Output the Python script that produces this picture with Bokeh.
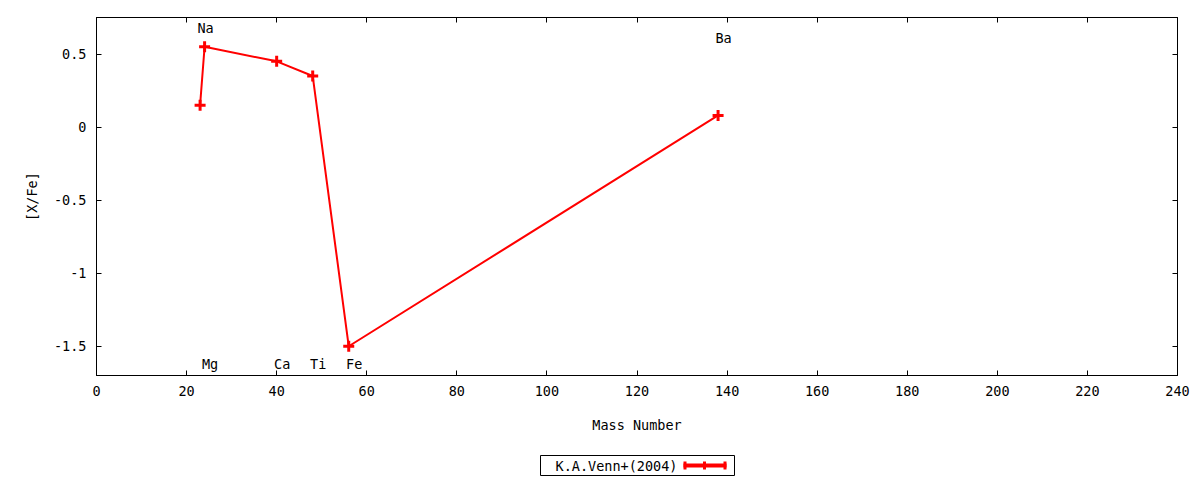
from bokeh.plotting import figure
from bokeh.layouts import column
from bokeh.models import Range1d, FixedTicker, LinearAxis, ColumnDataSource
from bokeh.core.properties import value
from bokeh.embed import file_html
from bokeh.resources import INLINE

# ---- data ----
elements = ["Na", "Mg", "Ca", "Ti", "Fe", "Ba"]
mass = [23, 24, 40, 48, 56, 138]
x_fe = [0.15, 0.55, 0.45, 0.35, -1.50, 0.08]
label_y = [0.68, -1.62, -1.62, -1.62, -1.62, 0.61]
x_ticks = [0, 20, 40, 60, 80, 100, 120, 140, 160, 180, 200, 220, 240]
y_ticks = [-1.5, -1.0, -0.5, 0.0, 0.5]
y_tick_labels = ["-1.5", "-1", "-0.5", "0", "0.5"]
series_name = "K.A.Venn+(2004)"

FONT = "DejaVu Sans Mono"
FS = "13.5px"
RED = "#ff0000"

p = figure(width=1200, height=448, output_backend="svg", toolbar_location=None,
           x_range=Range1d(0, 240), y_range=Range1d(-1.7, 0.75),
           min_border_left=96, min_border_right=23, min_border_top=17,
           min_border_bottom=73)
p.background_fill_color = "white"
p.border_fill_color = "white"
p.grid.visible = False
p.outline_line_color = "black"
p.outline_line_width = 1


def style_axis(ax, ticks, show_labels):
    ax.ticker = FixedTicker(ticks=ticks)
    ax.major_tick_in = 5
    ax.major_tick_out = 0
    ax.minor_tick_line_color = None
    ax.major_tick_line_color = "black"
    ax.axis_line_color = "black"
    ax.major_label_text_font = FONT
    ax.major_label_text_font_size = FS
    ax.major_label_text_color = "black"
    ax.axis_label_text_font = FONT
    ax.axis_label_text_font_size = FS
    ax.axis_label_text_font_style = "normal"
    ax.axis_label_text_color = "black"
    if not show_labels:
        ax.major_label_text_font_size = "0px"
        ax.major_label_text_color = None
        ax.major_label_standoff = 0


xa = p.xaxis[0]
style_axis(xa, x_ticks, True)
xa.major_label_standoff = 10
xa.axis_label = "Mass Number"
xa.axis_label_standoff = 18

ya = p.yaxis[0]
style_axis(ya, y_ticks, True)
ya.major_label_standoff = 10
ya.major_label_overrides = {t: l for t, l in zip(y_ticks, y_tick_labels)}
ya.axis_label = "[X/Fe]"
ya.axis_label_standoff = 11

top_ax = LinearAxis()
style_axis(top_ax, x_ticks, False)
p.add_layout(top_ax, "above")
right_ax = LinearAxis()
style_axis(right_ax, y_ticks, False)
p.add_layout(right_ax, "right")

src = ColumnDataSource(dict(mass=mass, x_fe=x_fe))
p.line("mass", "x_fe", source=src, line_color=RED, line_width=2)
p.scatter("mass", "x_fe", source=src, marker="cross", size=11,
          line_color=RED, line_width=3)

lsrc = ColumnDataSource(dict(x=mass, y=label_y, t=elements))
p.text("x", "y", text="t", source=lsrc, text_align="center", text_baseline="middle",
       x_offset=5.5, text_font=value(FONT), text_font_size=value(FS), text_color="black")

# ---- key strip below the plot; its frame is aligned with the main frame,
#      so its x range is expressed in page pixels of that frame ----
k = figure(width=1200, height=32, output_backend="svg", toolbar_location=None,
           x_range=Range1d(96, 1177), y_range=Range1d(0, 32),
           x_axis_location=None, y_axis_location=None,
           min_border=0, min_border_left=96, min_border_right=23,
           min_border_top=0, min_border_bottom=0)
k.grid.visible = False
k.outline_line_color = None
k.background_fill_color = "white"
k.border_fill_color = "white"
k.quad(left=[540], right=[734], top=[25], bottom=[5], fill_color=None,
       line_color="black", line_width=1)
k.text(x=[555], y=[15], text=[series_name], text_align="left", text_baseline="middle",
       text_font=value(FONT), text_font_size=value(FS), text_color="black")
k.segment(x0=[683, 684.5, 724.5, 704], y0=[15, 11, 11, 11],
          x1=[726, 684.5, 724.5, 704], y1=[15, 19, 19, 19],
          line_color=RED, line_width=[4, 3, 3, 3], line_cap="butt")

layout = column(p, k, spacing=0)
open("out.html", "w").write(file_html(layout, INLINE))
